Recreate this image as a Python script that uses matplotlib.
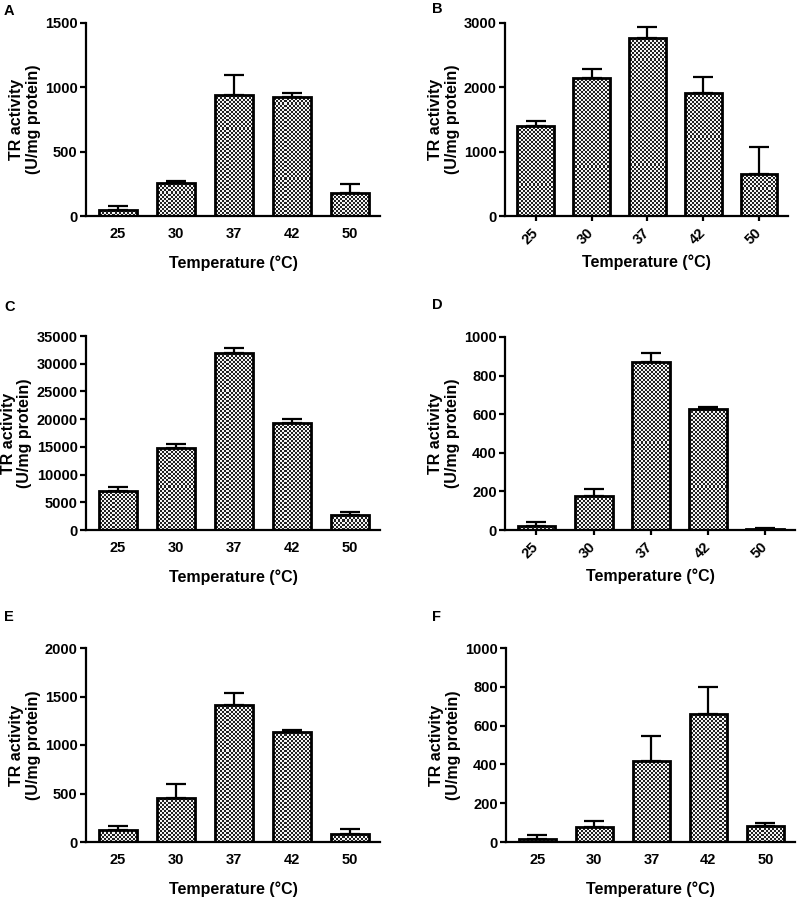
import matplotlib
matplotlib.use('Agg')
import matplotlib.pyplot as plt
import numpy as np
from matplotlib.colors import ListedColormap

plt.rcParams['font.family'] = ['Liberation Sans', 'DejaVu Sans']
plt.rcParams['font.weight'] = 'bold'

temps = ['25', '30', '37', '42', '50']

a_vals = [50, 260, 940, 925, 178]
a_err = [25, 10, 155, 28, 73]
b_vals = [1400, 2150, 2770, 1910, 660]
b_err = [80, 130, 165, 250, 405]
c_vals = [6950, 14800, 32000, 19300, 2750]
c_err = [750, 750, 800, 800, 450]
d_vals = [22, 175, 870, 628, 4]
d_err = [21, 38, 47, 10, 6]
e_vals = [127, 450, 1415, 1134, 86]
e_err = [35, 150, 117, 20, 45]
f_vals = [14, 77, 416, 658, 81]
f_err = [20, 30, 130, 141, 19]

panels = [
    ('A', a_vals, a_err, 1500, 500, False),
    ('B', b_vals, b_err, 3000, 1000, True),
    ('C', c_vals, c_err, 35000, 5000, False),
    ('D', d_vals, d_err, 1000, 200, True),
    ('E', e_vals, e_err, 2000, 500, False),
    ('F', f_vals, f_err, 1000, 200, False),
]

W, H = 800, 898
rects = [
    (86, 23, 380, 216),
    (505, 23, 788, 216),
    (86, 336, 380, 530),
    (505, 337, 795, 530),
    (86, 648, 380, 842),
    (506, 648, 795, 842),
]
letter_pos = [(4, 11), (432, 9), (4, 307), (432, 305), (4, 617), (432, 617)]

fig = plt.figure(figsize=(W / 100, H / 100), dpi=100)
checker_cmap = ListedColormap(['#222222', '#f4f4f4'])

for (letter, vals, errs, ymax, ystep, rot), (l, t, r, b), (lx, ly) in zip(panels, rects, letter_pos):
    ax = fig.add_axes([l / W, 1 - b / H, (r - l) / W, (b - t) / H])
    x = np.arange(len(temps))
    xlim = (-0.55, 4.52)
    bars = ax.bar(x, vals, width=0.66, facecolor='none', edgecolor='black',
                  linewidth=2.0, zorder=3)
    ncols = int((r - l) / 2)
    nrows = int((b - t) / 2)
    ii, jj = np.indices((nrows, ncols))
    checker = (ii + jj) % 2
    for bar in bars:
        im = ax.imshow(checker, cmap=checker_cmap, interpolation='nearest',
                       extent=(xlim[0], xlim[1], 0, ymax), aspect='auto', zorder=2)
        im.set_clip_path(bar)
    ax.errorbar(x, vals, yerr=[np.zeros(len(vals)), errs], fmt='none', ecolor='black',
                elinewidth=1.6, capsize=7, capthick=1.6, zorder=4)
    ax.set_xlim(*xlim)
    ax.set_ylim(0, ymax)
    ax.set_yticks(np.arange(0, ymax + 1, ystep))
    ax.set_xticks(x)
    for s in ['top', 'right']:
        ax.spines[s].set_visible(False)
    for s in ['left', 'bottom']:
        ax.spines[s].set_linewidth(1.6)
    ax.tick_params(axis='y', length=4, width=1.6, pad=2, labelsize=10.5)
    if rot:
        ax.tick_params(axis='x', length=3.5, width=1.6, pad=7, labelsize=10.5)
        ax.set_xticklabels(temps, rotation=45, ha='right', va='center',
                           rotation_mode='anchor', fontweight='bold')
        ax.set_xlabel('Temperature (°C)', fontsize=11.5, fontweight='bold', labelpad=5)
    else:
        ax.tick_params(axis='x', length=0, pad=8, labelsize=10.5)
        ax.set_xticklabels(temps, fontweight='bold')
        ax.set_xlabel('Temperature (°C)', fontsize=11.5, fontweight='bold', labelpad=10)
    for lab in ax.get_yticklabels():
        lab.set_fontweight('bold')
    ax.set_ylabel('TR activity\n(U/mg protein)', fontsize=11.5, fontweight='bold',
                  labelpad=3, linespacing=1.15)
    fig.text(lx / W, 1 - ly / H, letter, fontsize=10.5, fontweight='bold',
             ha='left', va='center')

fig.savefig('out.png', dpi=100)
